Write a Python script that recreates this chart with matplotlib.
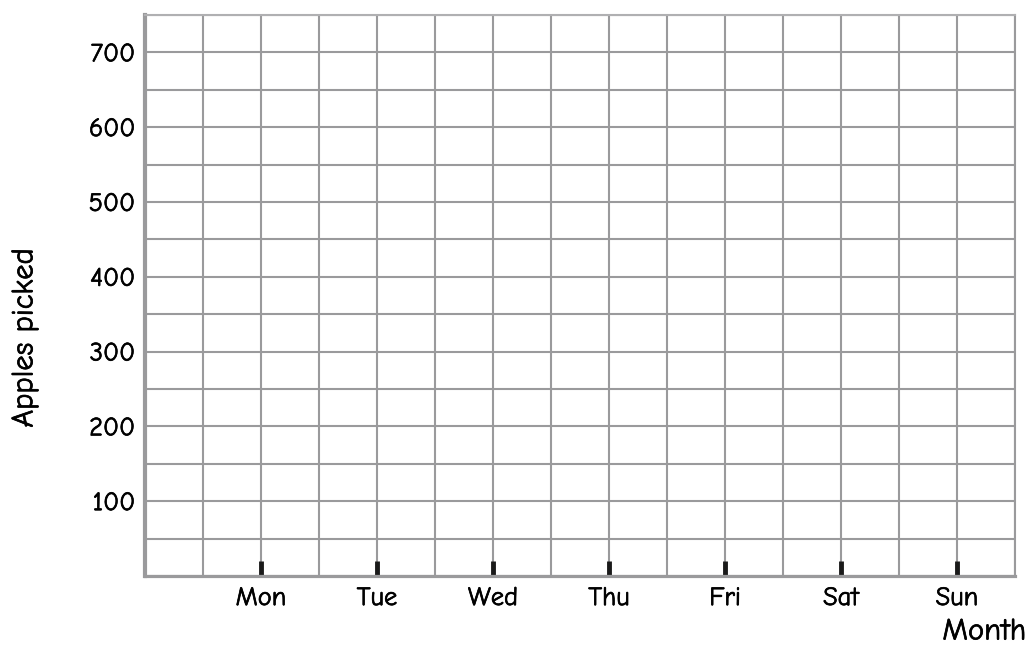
import matplotlib
matplotlib.use("Agg")
import matplotlib.pyplot as plt
import matplotlib.patheffects as pe
from matplotlib.ticker import MultipleLocator

days = ["Mon", "Tue", "Wed", "Thu", "Fri", "Sat", "Sun"]
y_ticks = [100, 200, 300, 400, 500, 600, 700]
y_max = 750

plt.rcParams['font.family'] = ['Comic Neue', 'Lato', 'DejaVu Sans']

fig = plt.figure(figsize=(10.3, 6.46), dpi=100)
ax = fig.add_axes([145 / 1030, 70 / 646, 870 / 1030, 561 / 646])

x_pos = list(range(1, len(days) + 1))
ax.set_xlim(0, len(days) + 0.5)
ax.set_ylim(0, y_max)

ax.set_xticks(x_pos)
ax.set_xticklabels(days)
ax.set_yticks(y_ticks)
ax.xaxis.set_minor_locator(MultipleLocator(0.5))
ax.yaxis.set_minor_locator(MultipleLocator(50))

grid_color = "#9a9a9c"
ax.grid(which="both", color=grid_color, linewidth=1.5)
ax.set_axisbelow(True)

# black stubs sitting inside the bottom axis on each day
ax.tick_params(axis="x", which="major", direction="in", length=11, width=3.5,
               color="#1a1a1a", labelsize=19, pad=8)
ax.tick_params(axis="x", which="minor", length=0)
ax.tick_params(axis="y", which="both", length=0, labelsize=19, pad=7)

ax.spines["left"].set_linewidth(3)
ax.spines["bottom"].set_linewidth(2.3)
ax.spines["top"].set_linewidth(1.5)
ax.spines["right"].set_linewidth(1.5)
for s in ax.spines.values():
    s.set_color(grid_color)
ax.spines["top"].set_color("#b0b0b2")

# slightly heavier strokes, closer to the comic font in the original
thicken = [pe.withStroke(linewidth=0.5, foreground="black")]
for lbl in ax.get_xticklabels() + ax.get_yticklabels():
    lbl.set_path_effects(thicken)

fig.text(25 / 1030, 1 - 338 / 646, "Apples picked", rotation=90, ha="center",
         va="center", fontsize=22, path_effects=thicken)
fig.text(1026 / 1030, 14 / 646, "Month", ha="right", va="center",
         fontsize=22, path_effects=thicken)

fig.savefig("out.png", dpi=100)
